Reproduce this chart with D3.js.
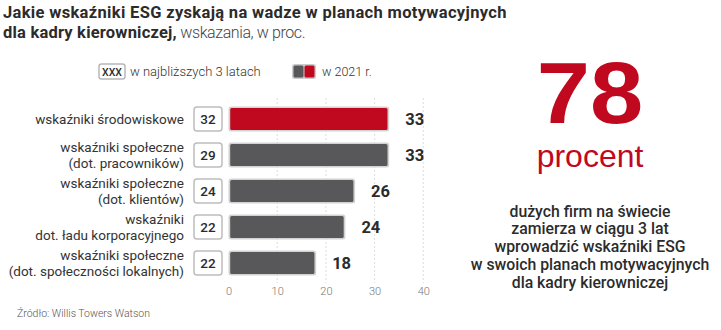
<!DOCTYPE html>
<html><head><meta charset="utf-8">
<script src="https://cdn.jsdelivr.net/npm/d3@7"></script>
<style>
body{margin:0;background:#fff;}
svg{display:block;font-family:Roboto,"Open Sans",sans-serif;}
</style></head>
<body><svg id="c" width="721" height="330"></svg>
<script>
const categories = [
  ["wskaźniki środowiskowe"],
  ["wskaźniki społeczne","(dot. pracowników)"],
  ["wskaźniki społeczne","(dot. klientów)"],
  ["wskaźniki","dot. ładu korporacyjnego"],
  ["wskaźniki społeczne","(dot. społeczności lokalnych)"]
];
const values2021 = [33, 33, 26, 24, 18];
const valuesNext3 = [32, 29, 24, 22, 22];
const ticks = [0, 10, 20, 30, 40];
const highlight = [true, false, false, false, false];

const RED = "#c0081f", GRAY = "#58585a", DARK = "#2b2b2b";
const svg = d3.select("#c");

// title
svg.append("text").attr("x",3).attr("y",18).attr("font-size",16.5).attr("font-weight",700).attr("fill",DARK)
  .attr("letter-spacing",0.33)
  .text("Jakie wskaźniki ESG zyskają na wadze w planach motywacyjnych");
const t2 = svg.append("text").attr("x",3).attr("y",37.5).attr("fill",DARK);
t2.append("tspan").attr("font-size",16.5).attr("font-weight",700).attr("letter-spacing",0.2).text("dla kadry kierowniczej,");
t2.append("tspan").attr("font-size",16).attr("font-weight",300).attr("letter-spacing",-0.4).attr("fill","#444").text(" wskazania, w proc.");

// legend
const lg = svg.append("g");
lg.append("rect").attr("x",99).attr("y",64).attr("width",26).attr("height",15).attr("rx",2.5)
  .attr("fill","#fff").attr("stroke","#b8b8b8").attr("stroke-width",1.5);
lg.append("text").attr("x",112).attr("y",75.5).attr("text-anchor","middle").attr("font-size",10.5).attr("font-weight",500).attr("fill",DARK).text("XXX");
lg.append("text").attr("x",130).attr("y",76).attr("font-size",13).attr("font-weight",300).attr("fill","#333").text("w najbliższych 3 latach");
lg.append("rect").attr("x",292).attr("y",64).attr("width",24).attr("height",15).attr("rx",2.5).attr("fill","#ccc");
lg.append("rect").attr("x",293.5).attr("y",65.5).attr("width",10).attr("height",12).attr("rx",1.5).attr("fill",GRAY);
lg.append("rect").attr("x",304.5).attr("y",65.5).attr("width",10).attr("height",12).attr("rx",1.5).attr("fill",RED);
lg.append("text").attr("x",322).attr("y",76).attr("font-size",12.5).attr("font-weight",300).attr("fill","#333").text("w 2021 r.");

// scales
const x = d3.scaleLinear().domain([0,40]).range([228.5,423.3]);
const y = d3.scaleBand().domain(d3.range(categories.length)).range([101,281]).paddingInner(0.3).paddingOuter(0.15);

// grid
svg.append("g").selectAll("line").data(ticks.slice(1)).join("line")
  .attr("x1",d=>x(d)).attr("x2",d=>x(d)).attr("y1",98).attr("y2",283)
  .attr("stroke","#d4d4d4").attr("stroke-width",0.8).attr("stroke-dasharray","2,2");

// axis
const ax = svg.append("g").attr("transform","translate(0,281)")
  .call(d3.axisBottom(x).tickValues(ticks).tickSize(0).tickPadding(6));
ax.select(".domain").remove();
ax.selectAll("text").attr("font-size",11).attr("font-weight",300).attr("fill","#777").attr("font-family","Roboto,sans-serif");

// bars
const rows = svg.append("g").selectAll("g").data(categories).join("g");
rows.append("rect")
  .attr("x",x(0)).attr("y",(d,i)=>y(i))
  .attr("width",(d,i)=>x(values2021[i])-x(0)).attr("height",y.bandwidth())
  .attr("rx",2.5).attr("fill","#d2d2d2");
rows.append("rect")
  .attr("x",x(0)+1.7).attr("y",(d,i)=>y(i)+1.7)
  .attr("width",(d,i)=>x(values2021[i])-x(0)-3.4).attr("height",y.bandwidth()-3.4)
  .attr("rx",1.5).attr("fill",(d,i)=>highlight[i]?RED:GRAY);
rows.append("text")
  .attr("x",(d,i)=>x(values2021[i])+16).attr("y",(d,i)=>y(i)+y.bandwidth()/2+6)
  .attr("font-size",16.5).attr("font-weight",700).attr("fill",DARK).text((d,i)=>values2021[i]);

// next-3-years boxes
rows.append("rect")
  .attr("x",194).attr("y",(d,i)=>y(i)+0.5).attr("width",28).attr("height",y.bandwidth()-1)
  .attr("rx",3).attr("fill","#fff").attr("stroke","#bdbdbd").attr("stroke-width",1.5);
rows.append("text")
  .attr("x",208).attr("y",(d,i)=>y(i)+y.bandwidth()/2+5)
  .attr("text-anchor","middle").attr("font-size",13.5).attr("font-weight",500).attr("fill",DARK)
  .text((d,i)=>valuesNext3[i]);

// category labels
rows.each(function(d,i){
  const g = d3.select(this);
  const cy = y(i)+y.bandwidth()/2;
  const n = d.length, lh = 15.5;
  d.forEach((line,j)=>{
    g.append("text").attr("x",184).attr("y",cy + (j-(n-1)/2)*lh + 5)
      .attr("text-anchor","end").attr("font-size",13.5).attr("font-weight",400).attr("fill","#333").text(line);
  });
});

// source
svg.append("text").attr("x",17).attr("y",317).attr("font-size",10.5).attr("font-weight",300).attr("fill","#555")
  .text("Źródło: Willis Towers Watson");

// right panel
const cx = 590;
svg.append("text").attr("transform",`translate(${cx},122.5) scale(1.1,1)`).attr("text-anchor","middle").attr("font-size",87).attr("font-weight",700)
  .attr("fill",RED).attr("font-family","'Liberation Sans',Arial,sans-serif").text("78");
svg.append("text").attr("x",cx).attr("y",167).attr("text-anchor","middle").attr("font-size",32).attr("font-weight",400)
  .attr("fill",RED).attr("font-family","'Liberation Sans Narrow','Liberation Sans',sans-serif").text("procent");
const desc = ["dużych firm na świecie","zamierza w ciągu 3 lat","wprowadzić wskaźniki ESG","w swoich planach motywacyjnych","dla kadry kierowniczej"];
svg.append("g").selectAll("text").data(desc).join("text")
  .attr("x",cx).attr("y",(d,i)=>216.5+i*17.8).attr("text-anchor","middle")
  .attr("font-size",15.8).attr("font-weight",500).attr("fill",DARK).text(d=>d);
</script></body></html>
